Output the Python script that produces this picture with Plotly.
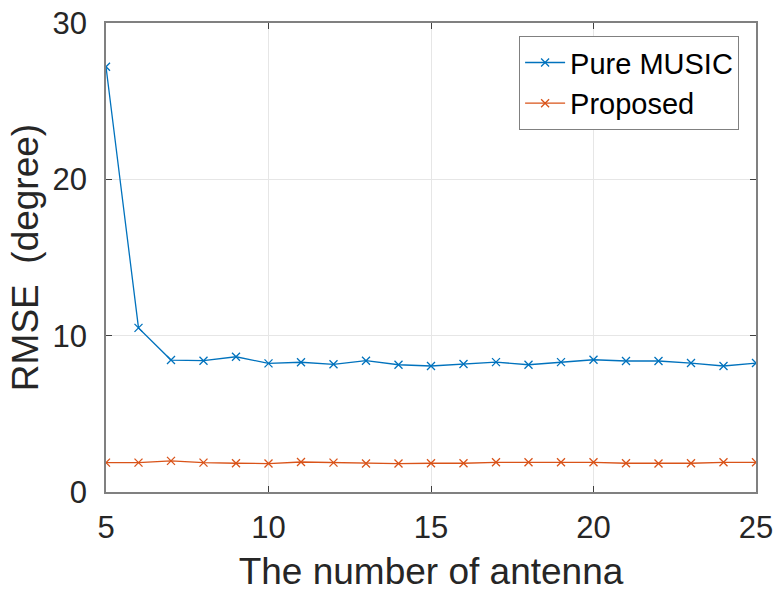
import plotly.graph_objects as go

antennas = list(range(5, 26))
pure_music = [27.2, 10.5, 8.44, 8.4, 8.65, 8.23, 8.3, 8.17, 8.4, 8.14, 8.06,
              8.19, 8.31, 8.14, 8.31, 8.46, 8.38, 8.38, 8.25, 8.06, 8.25]
proposed = [1.88, 1.88, 1.99, 1.88, 1.84, 1.82, 1.92, 1.88, 1.82, 1.82, 1.84,
            1.84, 1.9, 1.9, 1.9, 1.9, 1.84, 1.82, 1.84, 1.9, 1.9]
x_ticks = [5, 10, 15, 20, 25]
y_ticks = [0, 10, 20, 30]

fig = go.Figure()
fig.add_trace(go.Scatter(x=antennas, y=pure_music, mode="lines+markers", name="Pure MUSIC",
                         line=dict(color="#0072BD", width=1.3),
                         marker=dict(symbol="x-thin", size=8, line=dict(color="#0072BD", width=1.3))))
fig.add_trace(go.Scatter(x=antennas, y=proposed, mode="lines+markers", name="Proposed",
                         line=dict(color="#D95319", width=1.3),
                         marker=dict(symbol="x-thin", size=8, line=dict(color="#D95319", width=1.3))))

axis_common = dict(showline=True, linecolor="#808080", linewidth=1.5, mirror="ticks",
                   ticks="inside", ticklen=6, tickcolor="#404040", automargin=False,
                   showgrid=True, gridcolor="#e6e6e6", gridwidth=1, zeroline=False,
                   tickfont=dict(size=31, color="#262626"))

fig.update_layout(
    width=780, height=595,
    margin=dict(l=106, r=24, t=23, b=103),
    paper_bgcolor="white", plot_bgcolor="white",
    font=dict(family="Liberation Sans, Arial", color="#262626"),
    xaxis=dict(range=[5, 25], tickvals=x_ticks, ticklabelstandoff=7,
               title=dict(text="The number of antenna", font=dict(size=37), standoff=14),
               **axis_common),
    yaxis=dict(range=[0, 30], tickvals=y_ticks, ticklabelstandoff=11,
               title=dict(text="RMSE  (degree)", font=dict(size=37), standoff=3),
               **axis_common),
    legend=dict(x=0.974, y=0.972, xanchor="right", yanchor="top",
                bgcolor="white", bordercolor="#808080", borderwidth=1,
                font=dict(size=29, color="#000000"), itemwidth=40, tracegroupgap=0),
    showlegend=True,
)

fig.write_html("out.html")
